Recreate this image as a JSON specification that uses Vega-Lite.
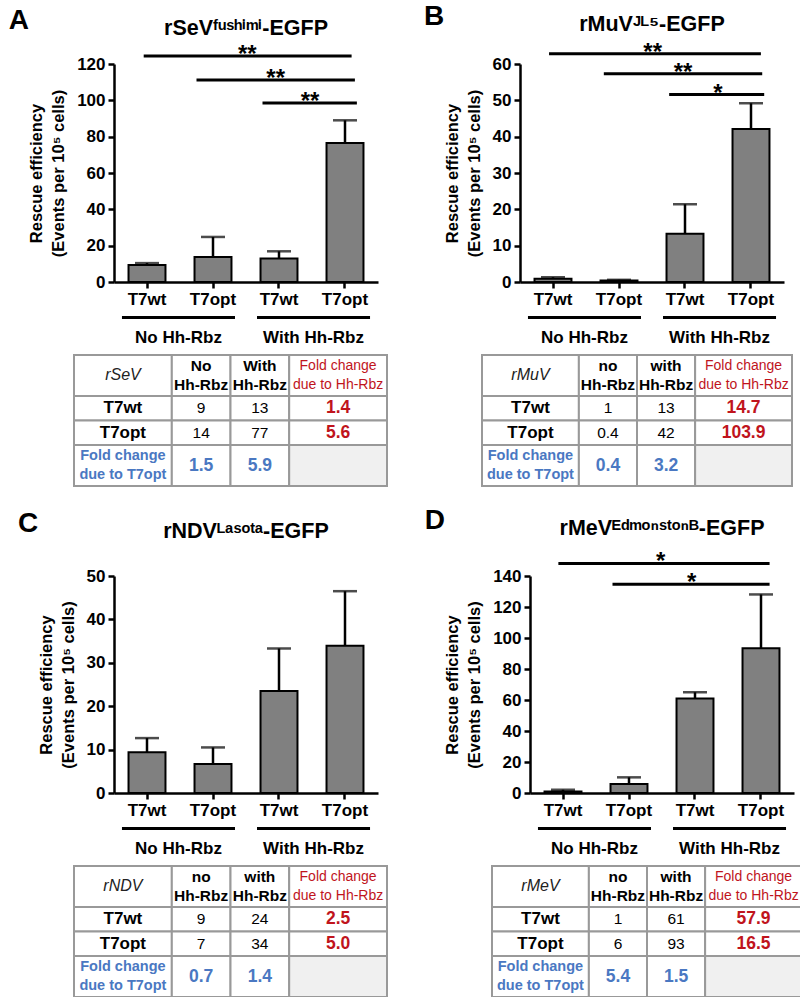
{
"$schema": "https://vega.github.io/schema/vega-lite/v6.json",
"background": "white",
"padding": {"left": 8, "top": 3, "right": 0, "bottom": 0},
"config": {
  "font": "Liberation Sans",
  "view": {"stroke": null},
  "axis": {"domainColor": "black", "domainWidth": 2.5, "tickColor": "black", "tickWidth": 2.5, "tickSize": 6, "labelFontSize": 17, "labelFontWeight": "bold", "labelColor": "black", "labelOverlap": false, "titleFontSize": 16.5, "titleFontWeight": "bold", "titleColor": "black", "grid": false},
  "axisY": {"titlePadding": 10, "titleLineHeight": 22, "labelPadding": 3, "tickCount": 20},
  "title": {"fontWeight": "bold", "color": "black"}
},
"datasets": {
  "bars": [
    {"p": "A", "bar": "T7wt No", "mean": 9.4, "upper": 10.4},
    {"p": "A", "bar": "T7opt No", "mean": 13.8, "upper": 24.8},
    {"p": "A", "bar": "T7wt With", "mean": 13.0, "upper": 16.9},
    {"p": "A", "bar": "T7opt With", "mean": 76.5, "upper": 89.0},
    {"p": "B", "bar": "T7wt No", "mean": 0.9, "upper": 1.3},
    {"p": "B", "bar": "T7opt No", "mean": 0.4, "upper": 0.6},
    {"p": "B", "bar": "T7wt With", "mean": 13.3, "upper": 21.4},
    {"p": "B", "bar": "T7opt With", "mean": 42.1, "upper": 49.2},
    {"p": "C", "bar": "T7wt No", "mean": 9.4, "upper": 12.65},
    {"p": "C", "bar": "T7opt No", "mean": 6.7, "upper": 10.5},
    {"p": "C", "bar": "T7wt With", "mean": 23.5, "upper": 33.3},
    {"p": "C", "bar": "T7opt With", "mean": 33.9, "upper": 46.5},
    {"p": "D", "bar": "T7wt No", "mean": 0.9, "upper": 2.1},
    {"p": "D", "bar": "T7opt No", "mean": 5.8, "upper": 10.1},
    {"p": "D", "bar": "T7wt With", "mean": 60.9, "upper": 65.0},
    {"p": "D", "bar": "T7opt With", "mean": 93.4, "upper": 128.1}
  ],
  "sig": [
    {"p": "A", "from": 0.45, "to": 3.6, "mid": 2.02, "y": 124.4, "star": "**"},
    {"p": "A", "from": 1.25, "to": 3.65, "mid": 2.45, "y": 111.2, "star": "**"},
    {"p": "A", "from": 2.25, "to": 3.68, "mid": 2.97, "y": 98.5, "star": "**"},
    {"p": "B", "from": 0.44, "to": 3.65, "mid": 2.01, "y": 62.8, "star": "**"},
    {"p": "B", "from": 1.27, "to": 3.67, "mid": 2.47, "y": 57.3, "star": "**"},
    {"p": "B", "from": 2.26, "to": 3.7, "mid": 3.0, "y": 51.6, "star": "*"},
    {"p": "D", "from": 0.43, "to": 3.63, "mid": 1.98, "y": 148.1, "star": "*"},
    {"p": "D", "from": 1.25, "to": 3.63, "mid": 2.45, "y": 134.6, "star": "*"}
  ],
  "groups": [{"cond": "No Hh-Rbz"}, {"cond": "With Hh-Rbz"}],
  "cells": [
    {"p": "A", "k": "corner", "t": "rSeV", "x0": 0, "x1": 5, "y0": 0, "y1": 5, "xm": 2.5, "ym": 2.5},
    {"p": "A", "k": "colhead", "t": "No\nHh-Rbz", "x0": 5, "x1": 8, "y0": 0, "y1": 5, "xm": 6.5, "ym": 2.5},
    {"p": "A", "k": "colhead", "t": "With\nHh-Rbz", "x0": 8, "x1": 11, "y0": 0, "y1": 5, "xm": 9.5, "ym": 2.5},
    {"p": "A", "k": "foldhead", "t": "Fold change\ndue to Hh-Rbz", "x0": 11, "x1": 16, "y0": 0, "y1": 5, "xm": 13.5, "ym": 2.5},
    {"p": "A", "k": "rowhead", "t": "T7wt", "x0": 0, "x1": 5, "y0": 5, "y1": 8, "xm": 2.5, "ym": 6.5},
    {"p": "A", "k": "value", "t": "9", "x0": 5, "x1": 8, "y0": 5, "y1": 8, "xm": 6.5, "ym": 6.5},
    {"p": "A", "k": "value", "t": "13", "x0": 8, "x1": 11, "y0": 5, "y1": 8, "xm": 9.5, "ym": 6.5},
    {"p": "A", "k": "foldH", "t": "1.4", "x0": 11, "x1": 16, "y0": 5, "y1": 8, "xm": 13.5, "ym": 6.5},
    {"p": "A", "k": "rowhead", "t": "T7opt", "x0": 0, "x1": 5, "y0": 8, "y1": 11, "xm": 2.5, "ym": 9.5},
    {"p": "A", "k": "value", "t": "14", "x0": 5, "x1": 8, "y0": 8, "y1": 11, "xm": 6.5, "ym": 9.5},
    {"p": "A", "k": "value", "t": "77", "x0": 8, "x1": 11, "y0": 8, "y1": 11, "xm": 9.5, "ym": 9.5},
    {"p": "A", "k": "foldH", "t": "5.6", "x0": 11, "x1": 16, "y0": 8, "y1": 11, "xm": 13.5, "ym": 9.5},
    {"p": "A", "k": "foldThead", "t": "Fold change\ndue to T7opt", "x0": 0, "x1": 5, "y0": 11, "y1": 16, "xm": 2.5, "ym": 13.5},
    {"p": "A", "k": "foldT", "t": "1.5", "x0": 5, "x1": 8, "y0": 11, "y1": 16, "xm": 6.5, "ym": 13.5},
    {"p": "A", "k": "foldT", "t": "5.9", "x0": 8, "x1": 11, "y0": 11, "y1": 16, "xm": 9.5, "ym": 13.5},
    {"p": "A", "k": "blank", "t": "", "x0": 11, "x1": 16, "y0": 11, "y1": 16, "xm": 13.5, "ym": 13.5},

    {"p": "B", "k": "corner", "t": "rMuV", "x0": 0, "x1": 5, "y0": 0, "y1": 5, "xm": 2.5, "ym": 2.5},
    {"p": "B", "k": "colhead", "t": "no\nHh-Rbz", "x0": 5, "x1": 8, "y0": 0, "y1": 5, "xm": 6.5, "ym": 2.5},
    {"p": "B", "k": "colhead", "t": "with\nHh-Rbz", "x0": 8, "x1": 11, "y0": 0, "y1": 5, "xm": 9.5, "ym": 2.5},
    {"p": "B", "k": "foldhead", "t": "Fold change\ndue to Hh-Rbz", "x0": 11, "x1": 16, "y0": 0, "y1": 5, "xm": 13.5, "ym": 2.5},
    {"p": "B", "k": "rowhead", "t": "T7wt", "x0": 0, "x1": 5, "y0": 5, "y1": 8, "xm": 2.5, "ym": 6.5},
    {"p": "B", "k": "value", "t": "1", "x0": 5, "x1": 8, "y0": 5, "y1": 8, "xm": 6.5, "ym": 6.5},
    {"p": "B", "k": "value", "t": "13", "x0": 8, "x1": 11, "y0": 5, "y1": 8, "xm": 9.5, "ym": 6.5},
    {"p": "B", "k": "foldH", "t": "14.7", "x0": 11, "x1": 16, "y0": 5, "y1": 8, "xm": 13.5, "ym": 6.5},
    {"p": "B", "k": "rowhead", "t": "T7opt", "x0": 0, "x1": 5, "y0": 8, "y1": 11, "xm": 2.5, "ym": 9.5},
    {"p": "B", "k": "value", "t": "0.4", "x0": 5, "x1": 8, "y0": 8, "y1": 11, "xm": 6.5, "ym": 9.5},
    {"p": "B", "k": "value", "t": "42", "x0": 8, "x1": 11, "y0": 8, "y1": 11, "xm": 9.5, "ym": 9.5},
    {"p": "B", "k": "foldH", "t": "103.9", "x0": 11, "x1": 16, "y0": 8, "y1": 11, "xm": 13.5, "ym": 9.5},
    {"p": "B", "k": "foldThead", "t": "Fold change\ndue to T7opt", "x0": 0, "x1": 5, "y0": 11, "y1": 16, "xm": 2.5, "ym": 13.5},
    {"p": "B", "k": "foldT", "t": "0.4", "x0": 5, "x1": 8, "y0": 11, "y1": 16, "xm": 6.5, "ym": 13.5},
    {"p": "B", "k": "foldT", "t": "3.2", "x0": 8, "x1": 11, "y0": 11, "y1": 16, "xm": 9.5, "ym": 13.5},
    {"p": "B", "k": "blank", "t": "", "x0": 11, "x1": 16, "y0": 11, "y1": 16, "xm": 13.5, "ym": 13.5},

    {"p": "C", "k": "corner", "t": "rNDV", "x0": 0, "x1": 5, "y0": 0, "y1": 5, "xm": 2.5, "ym": 2.5},
    {"p": "C", "k": "colhead", "t": "no\nHh-Rbz", "x0": 5, "x1": 8, "y0": 0, "y1": 5, "xm": 6.5, "ym": 2.5},
    {"p": "C", "k": "colhead", "t": "with\nHh-Rbz", "x0": 8, "x1": 11, "y0": 0, "y1": 5, "xm": 9.5, "ym": 2.5},
    {"p": "C", "k": "foldhead", "t": "Fold change\ndue to Hh-Rbz", "x0": 11, "x1": 16, "y0": 0, "y1": 5, "xm": 13.5, "ym": 2.5},
    {"p": "C", "k": "rowhead", "t": "T7wt", "x0": 0, "x1": 5, "y0": 5, "y1": 8, "xm": 2.5, "ym": 6.5},
    {"p": "C", "k": "value", "t": "9", "x0": 5, "x1": 8, "y0": 5, "y1": 8, "xm": 6.5, "ym": 6.5},
    {"p": "C", "k": "value", "t": "24", "x0": 8, "x1": 11, "y0": 5, "y1": 8, "xm": 9.5, "ym": 6.5},
    {"p": "C", "k": "foldH", "t": "2.5", "x0": 11, "x1": 16, "y0": 5, "y1": 8, "xm": 13.5, "ym": 6.5},
    {"p": "C", "k": "rowhead", "t": "T7opt", "x0": 0, "x1": 5, "y0": 8, "y1": 11, "xm": 2.5, "ym": 9.5},
    {"p": "C", "k": "value", "t": "7", "x0": 5, "x1": 8, "y0": 8, "y1": 11, "xm": 6.5, "ym": 9.5},
    {"p": "C", "k": "value", "t": "34", "x0": 8, "x1": 11, "y0": 8, "y1": 11, "xm": 9.5, "ym": 9.5},
    {"p": "C", "k": "foldH", "t": "5.0", "x0": 11, "x1": 16, "y0": 8, "y1": 11, "xm": 13.5, "ym": 9.5},
    {"p": "C", "k": "foldThead", "t": "Fold change\ndue to T7opt", "x0": 0, "x1": 5, "y0": 11, "y1": 16, "xm": 2.5, "ym": 13.5},
    {"p": "C", "k": "foldT", "t": "0.7", "x0": 5, "x1": 8, "y0": 11, "y1": 16, "xm": 6.5, "ym": 13.5},
    {"p": "C", "k": "foldT", "t": "1.4", "x0": 8, "x1": 11, "y0": 11, "y1": 16, "xm": 9.5, "ym": 13.5},
    {"p": "C", "k": "blank", "t": "", "x0": 11, "x1": 16, "y0": 11, "y1": 16, "xm": 13.5, "ym": 13.5},

    {"p": "D", "k": "corner", "t": "rMeV", "x0": 0, "x1": 5, "y0": 0, "y1": 5, "xm": 2.5, "ym": 2.5},
    {"p": "D", "k": "colhead", "t": "no\nHh-Rbz", "x0": 5, "x1": 8, "y0": 0, "y1": 5, "xm": 6.5, "ym": 2.5},
    {"p": "D", "k": "colhead", "t": "with\nHh-Rbz", "x0": 8, "x1": 11, "y0": 0, "y1": 5, "xm": 9.5, "ym": 2.5},
    {"p": "D", "k": "foldhead", "t": "Fold change\ndue to Hh-Rbz", "x0": 11, "x1": 16, "y0": 0, "y1": 5, "xm": 13.5, "ym": 2.5},
    {"p": "D", "k": "rowhead", "t": "T7wt", "x0": 0, "x1": 5, "y0": 5, "y1": 8, "xm": 2.5, "ym": 6.5},
    {"p": "D", "k": "value", "t": "1", "x0": 5, "x1": 8, "y0": 5, "y1": 8, "xm": 6.5, "ym": 6.5},
    {"p": "D", "k": "value", "t": "61", "x0": 8, "x1": 11, "y0": 5, "y1": 8, "xm": 9.5, "ym": 6.5},
    {"p": "D", "k": "foldH", "t": "57.9", "x0": 11, "x1": 16, "y0": 5, "y1": 8, "xm": 13.5, "ym": 6.5},
    {"p": "D", "k": "rowhead", "t": "T7opt", "x0": 0, "x1": 5, "y0": 8, "y1": 11, "xm": 2.5, "ym": 9.5},
    {"p": "D", "k": "value", "t": "6", "x0": 5, "x1": 8, "y0": 8, "y1": 11, "xm": 6.5, "ym": 9.5},
    {"p": "D", "k": "value", "t": "93", "x0": 8, "x1": 11, "y0": 8, "y1": 11, "xm": 9.5, "ym": 9.5},
    {"p": "D", "k": "foldH", "t": "16.5", "x0": 11, "x1": 16, "y0": 8, "y1": 11, "xm": 13.5, "ym": 9.5},
    {"p": "D", "k": "foldThead", "t": "Fold change\ndue to T7opt", "x0": 0, "x1": 5, "y0": 11, "y1": 16, "xm": 2.5, "ym": 13.5},
    {"p": "D", "k": "foldT", "t": "5.4", "x0": 5, "x1": 8, "y0": 11, "y1": 16, "xm": 6.5, "ym": 13.5},
    {"p": "D", "k": "foldT", "t": "1.5", "x0": 8, "x1": 11, "y0": 11, "y1": 16, "xm": 9.5, "ym": 13.5},
    {"p": "D", "k": "blank", "t": "", "x0": 11, "x1": 16, "y0": 11, "y1": 16, "xm": 13.5, "ym": 13.5}
  ]
},
"spacing": 19,
"vconcat": [
 {
  "spacing": 36,
  "hconcat": [
   {
    "title": {"text": "A", "anchor": "start", "frame": "bounds", "fontSize": 28, "offset": -17, "dx": -20},
    "spacing": 9,
    "vconcat": [
     {
      "width": 264, "height": 218,
      "title": {"text": "rSeVᶠᵘˢʰⁱᵐⁱ-EGFP", "frame": "group", "fontSize": 21.5, "offset": 4},
      "layer": [
       {
        "data": {"name": "bars"},
        "transform": [{"filter": "datum.p==='A'"}],
        "encoding": {"x": {"field": "bar", "type": "nominal", "sort": null, "scale": {"paddingInner": 0.44, "paddingOuter": 0.22}, "axis": {"title": null, "labelAngle": 0, "labelPadding": 3, "labelExpr": "split(datum.label,' ')[0]"}}},
        "layer": [
         {"mark": {"type": "bar", "fill": "#808080", "stroke": "black", "strokeWidth": 2},
          "encoding": {"y": {"field": "mean", "type": "quantitative", "scale": {"domain": [0, 120], "nice": false}, "axis": {"values": [0, 20, 40, 60, 80, 100, 120], "title": ["Rescue efficiency", "(Events per 10⁵ cells)"]}}}},
         {"mark": {"type": "rule", "color": "black", "strokeWidth": 2.5},
          "encoding": {"y": {"field": "mean", "type": "quantitative"}, "y2": {"field": "upper"}}},
         {"mark": {"type": "tick", "color": "black", "size": 24, "thickness": 2.5},
          "encoding": {"y": {"field": "upper", "type": "quantitative"}}}
        ]
       },
       {
        "data": {"name": "sig"},
        "transform": [{"filter": "datum.p==='A'"}],
        "encoding": {"y": {"field": "y", "type": "quantitative"}},
        "layer": [
         {"mark": {"type": "rule", "color": "black", "strokeWidth": 3},
          "encoding": {"x": {"field": "from", "type": "quantitative", "scale": {"domain": [0, 4], "nice": false, "zero": false}, "axis": null}, "x2": {"field": "to"}}},
         {"mark": {"type": "text", "fontSize": 24, "fontWeight": "bold", "baseline": "alphabetic", "dy": 6},
          "encoding": {"x": {"field": "mid", "type": "quantitative"}, "text": {"field": "star"}}}
        ]
       }
      ],
      "resolve": {"scale": {"x": "independent"}}
     },
     {
      "width": 264, "height": 3,
      "data": {"name": "groups"},
      "mark": {"type": "bar", "color": "black"},
      "encoding": {"x": {"field": "cond", "type": "nominal", "sort": null, "scale": {"paddingInner": 0.163, "paddingOuter": 0.059}, "axis": {"title": null, "domain": false, "ticks": false, "labelAngle": 0, "labelPadding": 10}}}
     },
     {
      "width": 273, "height": 131,
      "data": {"name": "cells"},
      "transform": [{"filter": "datum.p==='A'"}],
      "layer": [
       {"mark": {"type": "rect", "stroke": "#999999", "strokeWidth": 2},
        "encoding": {"x": {"field": "x0", "type": "quantitative", "scale": {"domain": [0, 16], "range": [-40, 273], "nice": false, "zero": false}, "axis": null}, "x2": {"field": "x1"}, "y": {"field": "y0", "type": "quantitative", "scale": {"domain": [0, 16], "range": [0, 131], "nice": false, "zero": false}, "axis": null}, "y2": {"field": "y1"}, "fill": {"condition": {"test": "datum.k==='blank'", "value": "#f0f0f0"}, "value": "white"}}},
       {"transform": [{"filter": "datum.k==='corner'"}], "mark": {"type": "text", "fontSize": 16, "fontStyle": "italic", "color": "#222222"}, "encoding": {"x": {"field": "xm", "type": "quantitative"}, "y": {"field": "ym", "type": "quantitative"}, "text": {"field": "t"}}},
       {"transform": [{"filter": "datum.k==='colhead'"}], "mark": {"type": "text", "fontSize": 15.5, "fontWeight": "bold", "color": "black", "lineBreak": "\n", "lineHeight": 19, "dy": -9.5}, "encoding": {"x": {"field": "xm", "type": "quantitative"}, "y": {"field": "ym", "type": "quantitative"}, "text": {"field": "t"}}},
       {"transform": [{"filter": "datum.k==='foldhead'"}], "mark": {"type": "text", "fontSize": 14, "color": "#c0141c", "lineBreak": "\n", "lineHeight": 19, "dy": -9.5}, "encoding": {"x": {"field": "xm", "type": "quantitative"}, "y": {"field": "ym", "type": "quantitative"}, "text": {"field": "t"}}},
       {"transform": [{"filter": "datum.k==='rowhead'"}], "mark": {"type": "text", "fontSize": 17, "fontWeight": "bold", "color": "black"}, "encoding": {"x": {"field": "xm", "type": "quantitative"}, "y": {"field": "ym", "type": "quantitative"}, "text": {"field": "t"}}},
       {"transform": [{"filter": "datum.k==='value'"}], "mark": {"type": "text", "fontSize": 15.5, "color": "black"}, "encoding": {"x": {"field": "xm", "type": "quantitative"}, "y": {"field": "ym", "type": "quantitative"}, "text": {"field": "t"}}},
       {"transform": [{"filter": "datum.k==='foldH'"}], "mark": {"type": "text", "fontSize": 17.5, "fontWeight": "bold", "color": "#c0141c"}, "encoding": {"x": {"field": "xm", "type": "quantitative"}, "y": {"field": "ym", "type": "quantitative"}, "text": {"field": "t"}}},
       {"transform": [{"filter": "datum.k==='foldThead'"}], "mark": {"type": "text", "fontSize": 14.5, "fontWeight": "bold", "color": "#4a78c2", "lineBreak": "\n", "lineHeight": 19, "dy": -9.5}, "encoding": {"x": {"field": "xm", "type": "quantitative"}, "y": {"field": "ym", "type": "quantitative"}, "text": {"field": "t"}}},
       {"transform": [{"filter": "datum.k==='foldT'"}], "mark": {"type": "text", "fontSize": 17.5, "fontWeight": "bold", "color": "#4a78c2"}, "encoding": {"x": {"field": "xm", "type": "quantitative"}, "y": {"field": "ym", "type": "quantitative"}, "text": {"field": "t"}}}
      ]
     }
    ]
   },
   {
    "title": {"text": "B", "anchor": "start", "frame": "bounds", "fontSize": 28, "offset": -17, "dx": -20},
    "spacing": 9,
    "vconcat": [
     {
      "width": 264, "height": 218,
      "title": {"text": "rMuVᴶᴸ⁵-EGFP", "frame": "group", "fontSize": 21.5, "offset": 5},
      "layer": [
       {
        "data": {"name": "bars"},
        "transform": [{"filter": "datum.p==='B'"}],
        "encoding": {"x": {"field": "bar", "type": "nominal", "sort": null, "scale": {"paddingInner": 0.44, "paddingOuter": 0.22}, "axis": {"title": null, "labelAngle": 0, "labelPadding": 3, "labelExpr": "split(datum.label,' ')[0]"}}},
        "layer": [
         {"mark": {"type": "bar", "fill": "#808080", "stroke": "black", "strokeWidth": 2},
          "encoding": {"y": {"field": "mean", "type": "quantitative", "scale": {"domain": [0, 60], "nice": false}, "axis": {"values": [0, 10, 20, 30, 40, 50, 60], "title": ["Rescue efficiency", "(Events per 10⁵ cells)"]}}}},
         {"mark": {"type": "rule", "color": "black", "strokeWidth": 2.5},
          "encoding": {"y": {"field": "mean", "type": "quantitative"}, "y2": {"field": "upper"}}},
         {"mark": {"type": "tick", "color": "black", "size": 24, "thickness": 2.5},
          "encoding": {"y": {"field": "upper", "type": "quantitative"}}}
        ]
       },
       {
        "data": {"name": "sig"},
        "transform": [{"filter": "datum.p==='B'"}],
        "encoding": {"y": {"field": "y", "type": "quantitative"}},
        "layer": [
         {"mark": {"type": "rule", "color": "black", "strokeWidth": 3},
          "encoding": {"x": {"field": "from", "type": "quantitative", "scale": {"domain": [0, 4], "nice": false, "zero": false}, "axis": null}, "x2": {"field": "to"}}},
         {"mark": {"type": "text", "fontSize": 24, "fontWeight": "bold", "baseline": "alphabetic", "dy": 6},
          "encoding": {"x": {"field": "mid", "type": "quantitative"}, "text": {"field": "star"}}}
        ]
       }
      ],
      "resolve": {"scale": {"x": "independent"}}
     },
     {
      "width": 264, "height": 3,
      "data": {"name": "groups"},
      "mark": {"type": "bar", "color": "black"},
      "encoding": {"x": {"field": "cond", "type": "nominal", "sort": null, "scale": {"paddingInner": 0.163, "paddingOuter": 0.059}, "axis": {"title": null, "domain": false, "ticks": false, "labelAngle": 0, "labelPadding": 10}}}
     },
     {
      "width": 273, "height": 131,
      "data": {"name": "cells"},
      "transform": [{"filter": "datum.p==='B'"}],
      "layer": [
       {"mark": {"type": "rect", "stroke": "#999999", "strokeWidth": 2},
        "encoding": {"x": {"field": "x0", "type": "quantitative", "scale": {"domain": [0, 16], "range": [-38, 272], "nice": false, "zero": false}, "axis": null}, "x2": {"field": "x1"}, "y": {"field": "y0", "type": "quantitative", "scale": {"domain": [0, 16], "range": [0, 131], "nice": false, "zero": false}, "axis": null}, "y2": {"field": "y1"}, "fill": {"condition": {"test": "datum.k==='blank'", "value": "#f0f0f0"}, "value": "white"}}},
       {"transform": [{"filter": "datum.k==='corner'"}], "mark": {"type": "text", "fontSize": 16, "fontStyle": "italic", "color": "#222222"}, "encoding": {"x": {"field": "xm", "type": "quantitative"}, "y": {"field": "ym", "type": "quantitative"}, "text": {"field": "t"}}},
       {"transform": [{"filter": "datum.k==='colhead'"}], "mark": {"type": "text", "fontSize": 15.5, "fontWeight": "bold", "color": "black", "lineBreak": "\n", "lineHeight": 19, "dy": -9.5}, "encoding": {"x": {"field": "xm", "type": "quantitative"}, "y": {"field": "ym", "type": "quantitative"}, "text": {"field": "t"}}},
       {"transform": [{"filter": "datum.k==='foldhead'"}], "mark": {"type": "text", "fontSize": 14, "color": "#c0141c", "lineBreak": "\n", "lineHeight": 19, "dy": -9.5}, "encoding": {"x": {"field": "xm", "type": "quantitative"}, "y": {"field": "ym", "type": "quantitative"}, "text": {"field": "t"}}},
       {"transform": [{"filter": "datum.k==='rowhead'"}], "mark": {"type": "text", "fontSize": 17, "fontWeight": "bold", "color": "black"}, "encoding": {"x": {"field": "xm", "type": "quantitative"}, "y": {"field": "ym", "type": "quantitative"}, "text": {"field": "t"}}},
       {"transform": [{"filter": "datum.k==='value'"}], "mark": {"type": "text", "fontSize": 15.5, "color": "black"}, "encoding": {"x": {"field": "xm", "type": "quantitative"}, "y": {"field": "ym", "type": "quantitative"}, "text": {"field": "t"}}},
       {"transform": [{"filter": "datum.k==='foldH'"}], "mark": {"type": "text", "fontSize": 17.5, "fontWeight": "bold", "color": "#c0141c"}, "encoding": {"x": {"field": "xm", "type": "quantitative"}, "y": {"field": "ym", "type": "quantitative"}, "text": {"field": "t"}}},
       {"transform": [{"filter": "datum.k==='foldThead'"}], "mark": {"type": "text", "fontSize": 14.5, "fontWeight": "bold", "color": "#4a78c2", "lineBreak": "\n", "lineHeight": 19, "dy": -9.5}, "encoding": {"x": {"field": "xm", "type": "quantitative"}, "y": {"field": "ym", "type": "quantitative"}, "text": {"field": "t"}}},
       {"transform": [{"filter": "datum.k==='foldT'"}], "mark": {"type": "text", "fontSize": 17.5, "fontWeight": "bold", "color": "#4a78c2"}, "encoding": {"x": {"field": "xm", "type": "quantitative"}, "y": {"field": "ym", "type": "quantitative"}, "text": {"field": "t"}}}
      ]
     }
    ]
   }
  ]
 },
 {
  "spacing": 36,
  "hconcat": [
   {
    "title": {"text": "C", "anchor": "start", "frame": "bounds", "fontSize": 28, "offset": -17, "dx": -20},
    "spacing": 9,
    "vconcat": [
     {
      "width": 264, "height": 217,
      "title": {"text": "rNDVᴸᵃˢᵒᵗᵃ-EGFP", "frame": "group", "fontSize": 21.5, "offset": 25},
      "layer": [
       {
        "data": {"name": "bars"},
        "transform": [{"filter": "datum.p==='C'"}],
        "encoding": {"x": {"field": "bar", "type": "nominal", "sort": null, "scale": {"paddingInner": 0.44, "paddingOuter": 0.22}, "axis": {"title": null, "labelAngle": 0, "labelPadding": 3, "labelExpr": "split(datum.label,' ')[0]"}}},
        "layer": [
         {"mark": {"type": "bar", "fill": "#808080", "stroke": "black", "strokeWidth": 2},
          "encoding": {"y": {"field": "mean", "type": "quantitative", "scale": {"domain": [0, 50], "nice": false}, "axis": {"values": [0, 10, 20, 30, 40, 50], "title": ["Rescue efficiency", "(Events per 10⁵ cells)"]}}}},
         {"mark": {"type": "rule", "color": "black", "strokeWidth": 2.5},
          "encoding": {"y": {"field": "mean", "type": "quantitative"}, "y2": {"field": "upper"}}},
         {"mark": {"type": "tick", "color": "black", "size": 24, "thickness": 2.5},
          "encoding": {"y": {"field": "upper", "type": "quantitative"}}}
        ]
       }
      ]
     },
     {
      "width": 264, "height": 3,
      "data": {"name": "groups"},
      "mark": {"type": "bar", "color": "black"},
      "encoding": {"x": {"field": "cond", "type": "nominal", "sort": null, "scale": {"paddingInner": 0.163, "paddingOuter": 0.059}, "axis": {"title": null, "domain": false, "ticks": false, "labelAngle": 0, "labelPadding": 10}}}
     },
     {
      "width": 273, "height": 131,
      "data": {"name": "cells"},
      "transform": [{"filter": "datum.p==='C'"}],
      "layer": [
       {"mark": {"type": "rect", "stroke": "#999999", "strokeWidth": 2},
        "encoding": {"x": {"field": "x0", "type": "quantitative", "scale": {"domain": [0, 16], "range": [-40, 273], "nice": false, "zero": false}, "axis": null}, "x2": {"field": "x1"}, "y": {"field": "y0", "type": "quantitative", "scale": {"domain": [0, 16], "range": [0, 131], "nice": false, "zero": false}, "axis": null}, "y2": {"field": "y1"}, "fill": {"condition": {"test": "datum.k==='blank'", "value": "#f0f0f0"}, "value": "white"}}},
       {"transform": [{"filter": "datum.k==='corner'"}], "mark": {"type": "text", "fontSize": 16, "fontStyle": "italic", "color": "#222222"}, "encoding": {"x": {"field": "xm", "type": "quantitative"}, "y": {"field": "ym", "type": "quantitative"}, "text": {"field": "t"}}},
       {"transform": [{"filter": "datum.k==='colhead'"}], "mark": {"type": "text", "fontSize": 15.5, "fontWeight": "bold", "color": "black", "lineBreak": "\n", "lineHeight": 19, "dy": -9.5}, "encoding": {"x": {"field": "xm", "type": "quantitative"}, "y": {"field": "ym", "type": "quantitative"}, "text": {"field": "t"}}},
       {"transform": [{"filter": "datum.k==='foldhead'"}], "mark": {"type": "text", "fontSize": 14, "color": "#c0141c", "lineBreak": "\n", "lineHeight": 19, "dy": -9.5}, "encoding": {"x": {"field": "xm", "type": "quantitative"}, "y": {"field": "ym", "type": "quantitative"}, "text": {"field": "t"}}},
       {"transform": [{"filter": "datum.k==='rowhead'"}], "mark": {"type": "text", "fontSize": 17, "fontWeight": "bold", "color": "black"}, "encoding": {"x": {"field": "xm", "type": "quantitative"}, "y": {"field": "ym", "type": "quantitative"}, "text": {"field": "t"}}},
       {"transform": [{"filter": "datum.k==='value'"}], "mark": {"type": "text", "fontSize": 15.5, "color": "black"}, "encoding": {"x": {"field": "xm", "type": "quantitative"}, "y": {"field": "ym", "type": "quantitative"}, "text": {"field": "t"}}},
       {"transform": [{"filter": "datum.k==='foldH'"}], "mark": {"type": "text", "fontSize": 17.5, "fontWeight": "bold", "color": "#c0141c"}, "encoding": {"x": {"field": "xm", "type": "quantitative"}, "y": {"field": "ym", "type": "quantitative"}, "text": {"field": "t"}}},
       {"transform": [{"filter": "datum.k==='foldThead'"}], "mark": {"type": "text", "fontSize": 14.5, "fontWeight": "bold", "color": "#4a78c2", "lineBreak": "\n", "lineHeight": 19, "dy": -9.5}, "encoding": {"x": {"field": "xm", "type": "quantitative"}, "y": {"field": "ym", "type": "quantitative"}, "text": {"field": "t"}}},
       {"transform": [{"filter": "datum.k==='foldT'"}], "mark": {"type": "text", "fontSize": 17.5, "fontWeight": "bold", "color": "#4a78c2"}, "encoding": {"x": {"field": "xm", "type": "quantitative"}, "y": {"field": "ym", "type": "quantitative"}, "text": {"field": "t"}}}
      ]
     }
    ]
   },
   {
    "title": {"text": "D", "anchor": "start", "frame": "bounds", "fontSize": 28, "offset": -17, "dx": -20},
    "spacing": 9,
    "vconcat": [
     {
      "width": 264, "height": 217,
      "title": {"text": "rMeVᴱᵈᵐᵒⁿˢᵗᵒⁿᴮ-EGFP", "frame": "group", "fontSize": 21.5, "offset": 11},
      "layer": [
       {
        "data": {"name": "bars"},
        "transform": [{"filter": "datum.p==='D'"}],
        "encoding": {"x": {"field": "bar", "type": "nominal", "sort": null, "scale": {"paddingInner": 0.44, "paddingOuter": 0.22}, "axis": {"title": null, "labelAngle": 0, "labelPadding": 3, "labelExpr": "split(datum.label,' ')[0]"}}},
        "layer": [
         {"mark": {"type": "bar", "fill": "#808080", "stroke": "black", "strokeWidth": 2},
          "encoding": {"y": {"field": "mean", "type": "quantitative", "scale": {"domain": [0, 140], "nice": false}, "axis": {"values": [0, 20, 40, 60, 80, 100, 120, 140], "title": ["Rescue efficiency", "(Events per 10⁵ cells)"]}}}},
         {"mark": {"type": "rule", "color": "black", "strokeWidth": 2.5},
          "encoding": {"y": {"field": "mean", "type": "quantitative"}, "y2": {"field": "upper"}}},
         {"mark": {"type": "tick", "color": "black", "size": 24, "thickness": 2.5},
          "encoding": {"y": {"field": "upper", "type": "quantitative"}}}
        ]
       },
       {
        "data": {"name": "sig"},
        "transform": [{"filter": "datum.p==='D'"}],
        "encoding": {"y": {"field": "y", "type": "quantitative"}},
        "layer": [
         {"mark": {"type": "rule", "color": "black", "strokeWidth": 3},
          "encoding": {"x": {"field": "from", "type": "quantitative", "scale": {"domain": [0, 4], "nice": false, "zero": false}, "axis": null}, "x2": {"field": "to"}}},
         {"mark": {"type": "text", "fontSize": 24, "fontWeight": "bold", "baseline": "alphabetic", "dy": 6},
          "encoding": {"x": {"field": "mid", "type": "quantitative"}, "text": {"field": "star"}}}
        ]
       }
      ],
      "resolve": {"scale": {"x": "independent"}}
     },
     {
      "width": 264, "height": 3,
      "data": {"name": "groups"},
      "mark": {"type": "bar", "color": "black"},
      "encoding": {"x": {"field": "cond", "type": "nominal", "sort": null, "scale": {"paddingInner": 0.163, "paddingOuter": 0.059}, "axis": {"title": null, "domain": false, "ticks": false, "labelAngle": 0, "labelPadding": 10}}}
     },
     {
      "width": 273, "height": 131,
      "data": {"name": "cells"},
      "transform": [{"filter": "datum.p==='D'"}],
      "layer": [
       {"mark": {"type": "rect", "stroke": "#999999", "strokeWidth": 2},
        "encoding": {"x": {"field": "x0", "type": "quantitative", "scale": {"domain": [0, 16], "range": [-38, 272], "nice": false, "zero": false}, "axis": null}, "x2": {"field": "x1"}, "y": {"field": "y0", "type": "quantitative", "scale": {"domain": [0, 16], "range": [0, 131], "nice": false, "zero": false}, "axis": null}, "y2": {"field": "y1"}, "fill": {"condition": {"test": "datum.k==='blank'", "value": "#f0f0f0"}, "value": "white"}}},
       {"transform": [{"filter": "datum.k==='corner'"}], "mark": {"type": "text", "fontSize": 16, "fontStyle": "italic", "color": "#222222"}, "encoding": {"x": {"field": "xm", "type": "quantitative"}, "y": {"field": "ym", "type": "quantitative"}, "text": {"field": "t"}}},
       {"transform": [{"filter": "datum.k==='colhead'"}], "mark": {"type": "text", "fontSize": 15.5, "fontWeight": "bold", "color": "black", "lineBreak": "\n", "lineHeight": 19, "dy": -9.5}, "encoding": {"x": {"field": "xm", "type": "quantitative"}, "y": {"field": "ym", "type": "quantitative"}, "text": {"field": "t"}}},
       {"transform": [{"filter": "datum.k==='foldhead'"}], "mark": {"type": "text", "fontSize": 14, "color": "#c0141c", "lineBreak": "\n", "lineHeight": 19, "dy": -9.5}, "encoding": {"x": {"field": "xm", "type": "quantitative"}, "y": {"field": "ym", "type": "quantitative"}, "text": {"field": "t"}}},
       {"transform": [{"filter": "datum.k==='rowhead'"}], "mark": {"type": "text", "fontSize": 17, "fontWeight": "bold", "color": "black"}, "encoding": {"x": {"field": "xm", "type": "quantitative"}, "y": {"field": "ym", "type": "quantitative"}, "text": {"field": "t"}}},
       {"transform": [{"filter": "datum.k==='value'"}], "mark": {"type": "text", "fontSize": 15.5, "color": "black"}, "encoding": {"x": {"field": "xm", "type": "quantitative"}, "y": {"field": "ym", "type": "quantitative"}, "text": {"field": "t"}}},
       {"transform": [{"filter": "datum.k==='foldH'"}], "mark": {"type": "text", "fontSize": 17.5, "fontWeight": "bold", "color": "#c0141c"}, "encoding": {"x": {"field": "xm", "type": "quantitative"}, "y": {"field": "ym", "type": "quantitative"}, "text": {"field": "t"}}},
       {"transform": [{"filter": "datum.k==='foldThead'"}], "mark": {"type": "text", "fontSize": 14.5, "fontWeight": "bold", "color": "#4a78c2", "lineBreak": "\n", "lineHeight": 19, "dy": -9.5}, "encoding": {"x": {"field": "xm", "type": "quantitative"}, "y": {"field": "ym", "type": "quantitative"}, "text": {"field": "t"}}},
       {"transform": [{"filter": "datum.k==='foldT'"}], "mark": {"type": "text", "fontSize": 17.5, "fontWeight": "bold", "color": "#4a78c2"}, "encoding": {"x": {"field": "xm", "type": "quantitative"}, "y": {"field": "ym", "type": "quantitative"}, "text": {"field": "t"}}}
      ]
     }
    ]
   }
  ]
 }
]
}
